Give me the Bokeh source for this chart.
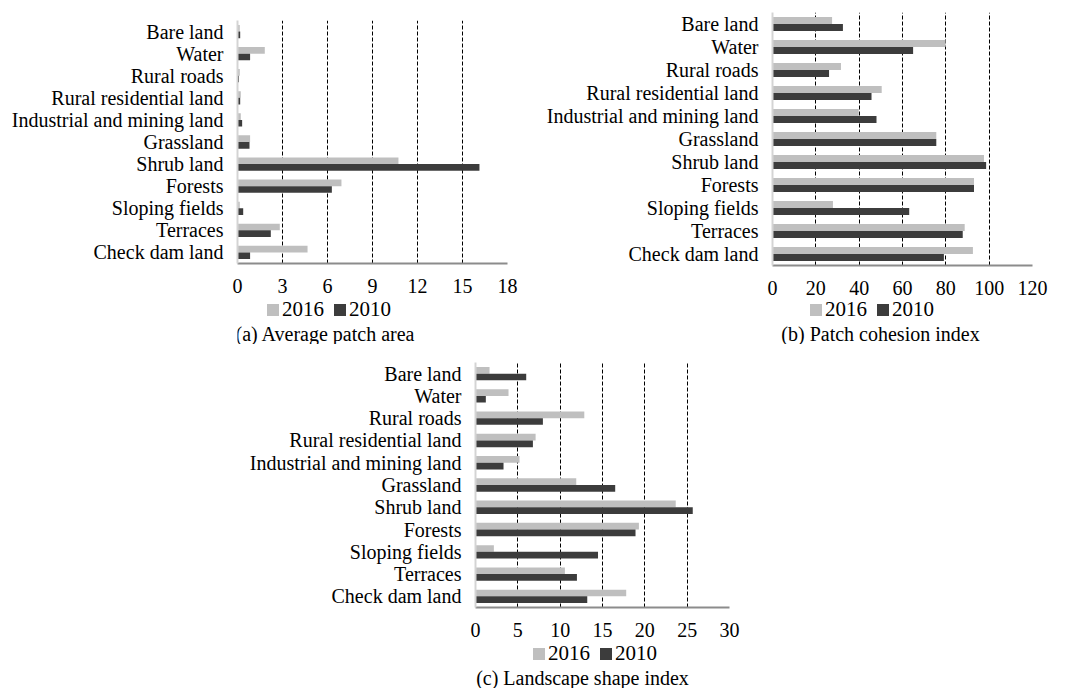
from bokeh.plotting import figure
from bokeh.models import (FactorRange, Range1d, FixedTicker, Legend, LegendItem,
                          Label, ColumnDataSource, Spacer)
from bokeh.transform import dodge
from bokeh.layouts import column, row
from bokeh.embed import file_html
from bokeh.resources import INLINE

categories = ["Bare land", "Water", "Rural roads", "Rural residential land",
              "Industrial and mining land", "Grassland", "Shrub land", "Forests",
              "Sloping fields", "Terraces", "Check dam land"]

# (a) Average patch area
area_2016 = [0.15, 1.82, 0.15, 0.22, 0.22, 0.84, 10.73, 6.93, 0.15, 2.82, 4.67]
area_2010 = [0.18, 0.84, 0.10, 0.18, 0.31, 0.80, 16.13, 6.29, 0.38, 2.22, 0.84]
area_ticks = [0, 3, 6, 9, 12, 15, 18]

# (b) Patch cohesion index
cohesion_2016 = [27.5, 79.9, 31.6, 50.4, 39.8, 75.6, 97.6, 93.0, 27.9, 88.7, 92.5]
cohesion_2010 = [32.5, 64.9, 26.1, 45.7, 48.0, 75.6, 98.6, 93.0, 63.1, 87.8, 79.1]
cohesion_ticks = [0, 20, 40, 60, 80, 100, 120]

# (c) Landscape shape index
shape_2016 = [1.66, 3.9, 12.85, 7.1, 5.2, 11.9, 23.65, 19.3, 2.17, 10.56, 17.8]
shape_2010 = [5.99, 1.22, 7.96, 6.78, 3.31, 16.5, 25.66, 18.9, 14.47, 11.98, 13.2]
shape_ticks = [0, 5, 10, 15, 20, 25, 30]

series_names = ["2016", "2010"]
titles = ["(a) Average patch area", "(b) Patch cohesion index", "(c) Landscape shape index"]

FONT = "Liberation Serif"
LIGHT = "#bfbfbf"
DARK = "#3c3c3c"


def add_bars(p, src):
    r16 = p.hbar(y=dodge("cat", 0.15, range=p.y_range), right="v16", left=0, height=0.3,
                 source=src, fill_color=LIGHT, line_color=None)
    r10 = p.hbar(y=dodge("cat", -0.15, range=p.y_range), right="v10", left=0, height=0.3,
                 source=src, fill_color=DARK, line_color=None)
    return r16, r10


def make_main(src, ticks, width, height, mb_left, mb_right, mb_top, mb_bottom):
    p = figure(width=width, height=height, output_backend="svg", toolbar_location=None,
               y_range=FactorRange(factors=list(reversed(categories)), range_padding=0),
               x_range=Range1d(ticks[0], ticks[-1]),
               min_border_left=mb_left, min_border_right=mb_right,
               min_border_top=mb_top, min_border_bottom=mb_bottom)
    p.outline_line_color = None
    p.background_fill_color = "white"
    add_bars(p, src)

    p.ygrid.grid_line_color = None
    p.xgrid.ticker = FixedTicker(ticks=ticks[1:])
    p.xgrid.grid_line_color = "black"
    p.xgrid.grid_line_dash = "4 2"
    p.xgrid.grid_line_width = 1

    xa = p.xaxis[0]
    xa.ticker = FixedTicker(ticks=ticks)
    xa.axis_line_color = "#8c8c8c"
    xa.axis_line_width = 2
    xa.major_tick_line_color = None
    xa.minor_tick_line_color = None
    xa.major_label_text_font = FONT
    xa.major_label_text_font_size = "20px"
    xa.major_label_text_color = "black"
    xa.major_label_standoff = 9

    ya = p.yaxis[0]
    ya.axis_line_color = "#d4d4d4"
    ya.axis_line_width = 2
    ya.major_tick_line_color = None
    ya.minor_tick_line_color = None
    ya.major_label_text_font = FONT
    ya.major_label_text_font_size = "20px"
    ya.major_label_text_color = "black"
    ya.major_label_standoff = 8
    return p


def make_footer(src, ticks, title, width, height, legend_loc, title_loc):
    # legend + caption strip under each chart; its bar renderers stay hidden
    f = figure(width=width, height=height, output_backend="svg", toolbar_location=None,
               x_range=Range1d(ticks[0], ticks[-1]),
               y_range=FactorRange(factors=list(reversed(categories)), range_padding=0),
               min_border=0, x_axis_location=None, y_axis_location=None)
    f.outline_line_color = None
    f.xgrid.grid_line_color = None
    f.ygrid.grid_line_color = None
    r16, r10 = add_bars(f, src)
    r16.visible = False
    r10.visible = False
    legend = Legend(items=[LegendItem(label=series_names[0], renderers=[r16]),
                           LegendItem(label=series_names[1], renderers=[r10])],
                    orientation="horizontal", location=legend_loc,
                    label_text_font=FONT, label_text_font_size="21px",
                    label_text_color="black",
                    glyph_width=15, glyph_height=15, label_standoff=2, spacing=8,
                    padding=0, margin=0, border_line_color=None,
                    background_fill_alpha=0, label_height=21,
                    inactive_fill_alpha=0)
    f.add_layout(legend, "center")
    lab = Label(x=title_loc[0], y=title_loc[1], x_units="screen", y_units="screen",
                text=title, text_font=FONT, text_font_size="20px", text_color="black",
                text_align="center", text_baseline="middle")
    f.add_layout(lab)
    return f


src_a = ColumnDataSource(dict(cat=categories, v16=area_2016, v10=area_2010))
src_b = ColumnDataSource(dict(cat=categories, v16=cohesion_2016, v10=cohesion_2010))
src_c = ColumnDataSource(dict(cat=categories, v16=shape_2016, v10=shape_2010))

pa = make_main(src_a, area_ticks, 512, 289, 229, 13, 12, 34)
fa = make_footer(src_a, area_ticks, titles[0], 512, 47, (28, 22), (88, 11))
pb = make_main(src_b, cohesion_ticks, 537, 289, 252, 25, 4, 32)
fb = make_footer(src_b, cohesion_ticks, titles[1], 537, 47, (36, 22), (108, 11))
pc = make_main(src_c, shape_ticks, 505, 297, 230, 21, 18, 34)
fc = make_footer(src_c, shape_ticks, titles[2], 505, 47, (56, 22), (107, 11))

layout = row(Spacer(width=8, height=10),
             column(Spacer(width=10, height=8),
                    row(column(pa, fa), column(pb, fb)),
                    row(Spacer(width=237, height=10), column(pc, fc))))

with open("out.html", "w") as f:
    f.write(file_html(layout, INLINE))
